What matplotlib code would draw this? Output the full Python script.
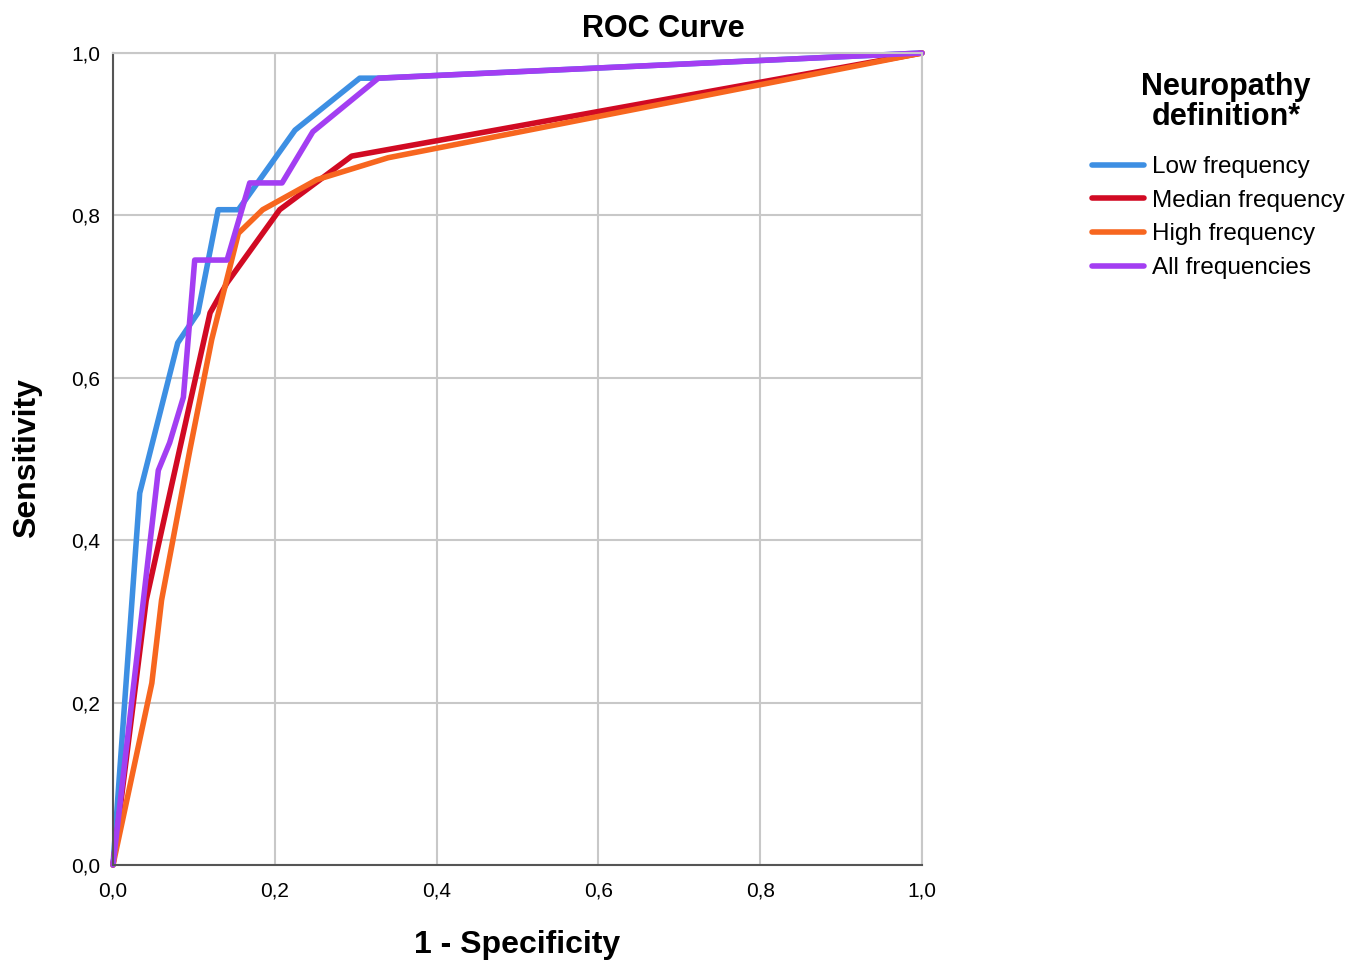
import matplotlib
matplotlib.use('Agg')
import matplotlib.pyplot as plt

plt.rcParams['font.family'] = ['Liberation Sans', 'DejaVu Sans']

# ROC points (1 - specificity, sensitivity)
low_fpr = [0, 0.033, 0.080, 0.105, 0.130, 0.155, 0.225, 0.305, 0.328, 1.0]
low_tpr = [0, 0.458, 0.643, 0.680, 0.807, 0.807, 0.905, 0.969, 0.969, 1.0]

med_fpr = [0, 0.041, 0.073, 0.120, 0.141, 0.206, 0.295, 1.0]
med_tpr = [0, 0.326, 0.470, 0.680, 0.717, 0.807, 0.873, 1.0]

high_fpr = [0, 0.048, 0.060, 0.095, 0.122, 0.155, 0.185, 0.252, 0.340, 1.0]
high_tpr = [0, 0.224, 0.326, 0.511, 0.647, 0.778, 0.807, 0.844, 0.871, 1.0]

all_fpr = [0, 0.056, 0.070, 0.087, 0.101, 0.141, 0.169, 0.209, 0.247, 0.328, 1.0]
all_tpr = [0, 0.486, 0.520, 0.576, 0.745, 0.745, 0.840, 0.840, 0.903, 0.969, 1.0]

labels = ['Low frequency', 'Median frequency', 'High frequency', 'All frequencies']
colors = ['#3d8fe3', '#d10a23', '#f7661f', '#a33ef2']
ticks = [0, 0.2, 0.4, 0.6, 0.8, 1.0]
tick_labels = ['0,0', '0,2', '0,4', '0,6', '0,8', '1,0']

W, H = 1359, 961
fig = plt.figure(figsize=(W / 100, H / 100), dpi=100)
ax = fig.add_axes([113 / W, 96 / H, 809 / W, 812 / H])

series = [(low_fpr, low_tpr), (med_fpr, med_tpr), (high_fpr, high_tpr), (all_fpr, all_tpr)]
for (x, y), lab, c in zip(series, labels, colors):
    ax.plot(x, y, color=c, lw=4, label=lab, solid_capstyle='round', clip_on=False)

ax.set_xlim(0, 1)
ax.set_ylim(0, 1)
ax.set_xticks(ticks)
ax.set_yticks(ticks)
ax.set_xticklabels(tick_labels)
ax.set_yticklabels(tick_labels)
ax.tick_params(labelsize=15, length=0)
ax.tick_params(axis='x', pad=12)
ax.tick_params(axis='y', pad=9)
ax.grid(True, color='#c8c8c8', lw=1.5)
ax.set_axisbelow(True)
for s in ['top', 'right']:
    ax.spines[s].set_color('#c8c8c8')
    ax.spines[s].set_linewidth(1.5)
for s in ['left', 'bottom']:
    ax.spines[s].set_color('#555555')
    ax.spines[s].set_linewidth(1.5)

fig.text(663 / W, 1 - 29 / H, 'ROC Curve', fontsize=22, fontweight='bold', ha='center', va='center')
fig.text(517 / W, 1 - 945 / H, '1 - Specificity', fontsize=23, fontweight='bold', ha='center', va='center')
fig.text(27 / W, 1 - 458 / H, 'Sensitivity', fontsize=23, fontweight='bold', ha='center', va='center',
         rotation=90)

fig.text(1226 / W, 1 - 102 / H, 'Neuropathy\ndefinition*', fontsize=22, fontweight='bold',
         ha='center', va='center', linespacing=0.98)
leg = fig.legend(loc='upper left', bbox_to_anchor=(1092 / W, 1 - 156 / H), frameon=False,
                 fontsize=17.5, borderaxespad=0, borderpad=0,
                 handlelength=2.15, handletextpad=0.3, labelspacing=0.48)
for line in leg.get_lines():
    line.set_linewidth(4)

fig.savefig('out.png', dpi=100)
